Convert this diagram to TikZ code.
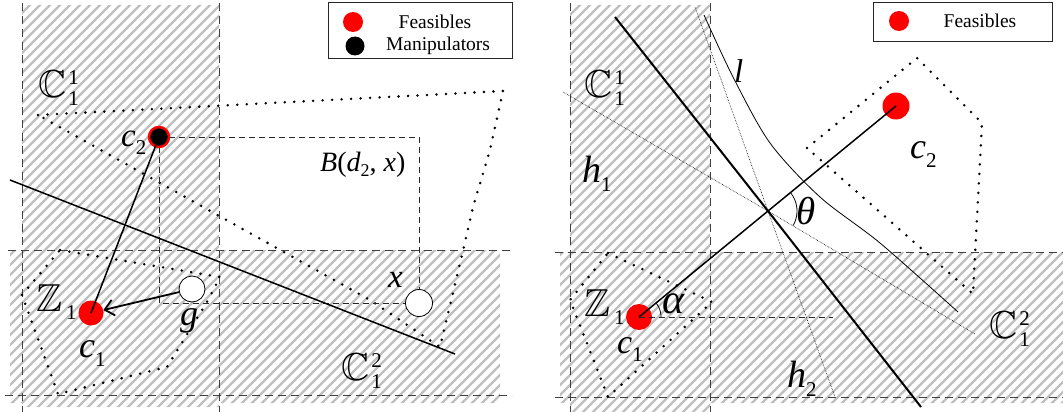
\documentclass[tikz,border=0pt]{standalone}
\usepackage{amssymb}
\usepackage{fontspec}
\setmainfont{Liberation Serif}
\usepackage{graphicx}
\usetikzlibrary{arrows.meta}
\newcommand{\scr}{\fontsize{21}{21}\selectfont\upshape}
\newcommand{\sbs}[1]{\raisebox{-0.26em}{\scr #1}}
\newcommand{\BBl}[1]{\scalebox{3.9}{\fontsize{10}{12}\selectfont$\mathbb{#1}$}}
\newcommand{\BBC}[3]{\BBl{#1}\kern2pt\rlap{\raisebox{13pt}{\scr #2}}\raisebox{-8pt}{\scr #3}}
\newcommand{\BBZ}[2]{\BBl{#1}\kern4pt\raisebox{-8pt}{\scr #2}}
\tikzset{
 hatch/.style={line width=2.2pt, black!25},
 regline/.style={dash pattern=on 8pt off 5pt, line width=0.9pt, black!75},
 bline/.style={dash pattern=on 6pt off 4pt, line width=0.8pt, black!85},
 dotpoly/.style={line width=2.8pt, line cap=round, dash pattern=on 0pt off 9.5pt},
 feas/.style={circle, fill=red, inner sep=0pt, minimum size=26pt},
 manip/.style={circle, fill=black, draw=red, line width=2.5pt, minimum size=20pt, inner sep=0pt},
 hollow/.style={circle, draw=black, line width=0.8pt, fill=white, inner sep=0pt, minimum size=26pt},
 lab/.style={inner sep=0pt, anchor=base west, font=\fontsize{#1}{#1}\selectfont\itshape},
 lab/.default=36,
 leg/.style={inner sep=0pt, font=\fontsize{19.5}{20}\selectfont},
 legbox/.style={draw=black!85, line width=1pt, inner sep=0pt},
 solid1/.style={line width=1.5pt},
}
\begin{document}
\begin{tikzpicture}[x=1pt,y=-1pt]
\useasboundingbox (0,0) rectangle (1063,412);
% hatching
\begin{scope}
\clip (22,5) rectangle (219,407) (10,250) rectangle (500,403)
      (570,5) rectangle (710,412) (560,252) rectangle (1063,403);
\foreach \i in {-430,-420,...,1070} \draw[hatch] (\i,415) -- ++(430,-430);
\end{scope}
% region boundaries
\draw[regline] (22,3) -- (22,412);
\draw[regline] (219,3) -- (219,412);
\draw[regline] (8,250) -- (512,250);
\draw[regline] (5,395) -- (512,395);
\draw[regline] (570,3) -- (570,412);
\draw[regline] (710,3) -- (710,412);
\draw[regline] (555,252) -- (1063,252);
\draw[regline] (555,397) -- (1063,397);

% ---------------- left panel ----------------
\draw[dotpoly] (38,115) -- (503,91) -- (490,150) -- (473,207) -- (462,255) -- (440,347) -- (370,300) -- cycle;
\draw[dotpoly] (60,250) -- (220,277) -- (207,302) -- (167,367) -- (58,394) -- (22,295) -- cycle;

\coordinate (pc2) at (159,137);
\coordinate (px) at (419,303);
\draw[bline] (pc2) -- (pc2 -| px) -- (px);
\draw[bline] (pc2) -- (pc2 |- px) -- (px);

\node[manip] (c2) at (pc2) {};
\node[feas, minimum size=25pt] (c1) at (91,313) {};
\node[hollow] (g) at (192,289) {};
\node[hollow, minimum size=27pt] (x) at (px) {};

\coordinate (sA) at (10,180);
\coordinate (sB) at (455,354);
\draw[solid1] (sA) -- (sB);
\draw[solid1] (c2.center) -- (c1.center);
\draw[line width=1.8pt, -{Straight Barb[length=9pt,width=16pt]}] (g) -- (c1);

% legend left
\node[legbox, minimum width=184pt, minimum height=56pt] (legL) at (420,31) {};
\node[circle, fill=red, inner sep=0pt, minimum size=20pt] (lfR) at (353,22) {};
\node[circle, fill=black, inner sep=0pt, minimum size=19pt] (lfB) at (355,46) {};
\node[leg] (ltF) at (435,22) {Feasibles};
\node[leg] (ltM) at (438,46) {Manipulators};

% labels left
\node[lab] (LC11) at (38,97) {\BBC{C}{1}{1}};
\node[lab=33] (Lc2) at (121,146) {c\sbs{2}};
\node[lab=28] (LB) at (320,171) {B\upshape(\itshape d\raisebox{-5pt}{\fontsize{18}{18}\selectfont\upshape 2}\upshape, \itshape x\upshape)};
\node[lab=33] (Lx) at (388,287) {x};
\node[lab] (Lg) at (180,325) {g};
\node[lab] (LZ) at (36,311) {\BBZ{Z}{1}};
\node[lab] (Lc1) at (79,357) {c\sbs{1}};
\node[lab] (LC12) at (341,380) {\BBC{C}{2}{1}};

% ---------------- right panel ----------------
\draw[dotpoly] (807,148) -- (917,58) -- (982,123) -- (973,294) -- cycle;
\draw[dotpoly] (608,253) -- (712,302) -- (608,397) -- (570,300) -- cycle;

\coordinate (P) at (768,211);
\coordinate (t1) at (615,17);
\coordinate (t2) at (921,407);
\coordinate (h1a) at (563,92);
\coordinate (h1b) at (975,334);
\coordinate (h2a) at (695,7);
\coordinate (h2b) at (835,397);
\coordinate (cE) at (833,317);

\node[feas] (rc1) at (639,317) {};
\node[feas, minimum size=27pt] (rc2) at (896,106) {};

\draw[line width=0.6pt, densely dotted] (h1a) -- (P) -- (h1b);
\draw[line width=0.6pt, densely dotted] (h2a) -- (P) -- (h2b);
\draw[line width=0.8pt] plot[smooth] coordinates {(704,15) (733,77) (770,143) (820,197) (880,243) (958,312)};
\draw[line width=2pt] (t1) -- (P) -- (t2);
\draw[solid1] (rc1.center) -- (P) -- (rc2.center);
\draw[bline] (rc1.center) -- (cE);
\draw[line width=0.8pt, shift={(rc1.center)}] plot[domain=0:39.4, samples=20] ({22*cos(\x)},{-22*sin(\x)});
\draw[line width=0.8pt, shift={(P)}] plot[domain=-30:39.4, samples=30] ({29*cos(\x)},{-29*sin(\x)});

% legend right
\node[legbox, minimum width=179pt, minimum height=39pt] (legR) at (962.5,22.5) {};
\node[circle, fill=red, inner sep=0pt, minimum size=20pt] (rfR) at (899,21) {};
\node[leg] (rtF) at (980,21) {Feasibles};

% labels right
\node[lab] (RC11) at (584,97) {\BBC{C}{1}{1}};
\node[lab=33] (Rl) at (734,83) {l};
\node[lab=38] (Rh1) at (582,182) {h\sbs{1}};
\node[lab] (Rc2) at (910,158) {c\sbs{2}};
\node[lab=39] (Rth) at (796,224) {θ};
\node[lab=42] (Ral) at (662,313) {α};
\node[lab] (RZ) at (584,316) {\BBZ{Z}{1}};
\node[lab=34] (Rc1) at (617,353) {c\sbs{1}};
\node[lab=38] (Rh2) at (787,387) {h\sbs{2}};
\node[lab] (RC12) at (989,338) {\BBC{C}{2}{1}};
\end{tikzpicture}
\end{document}
